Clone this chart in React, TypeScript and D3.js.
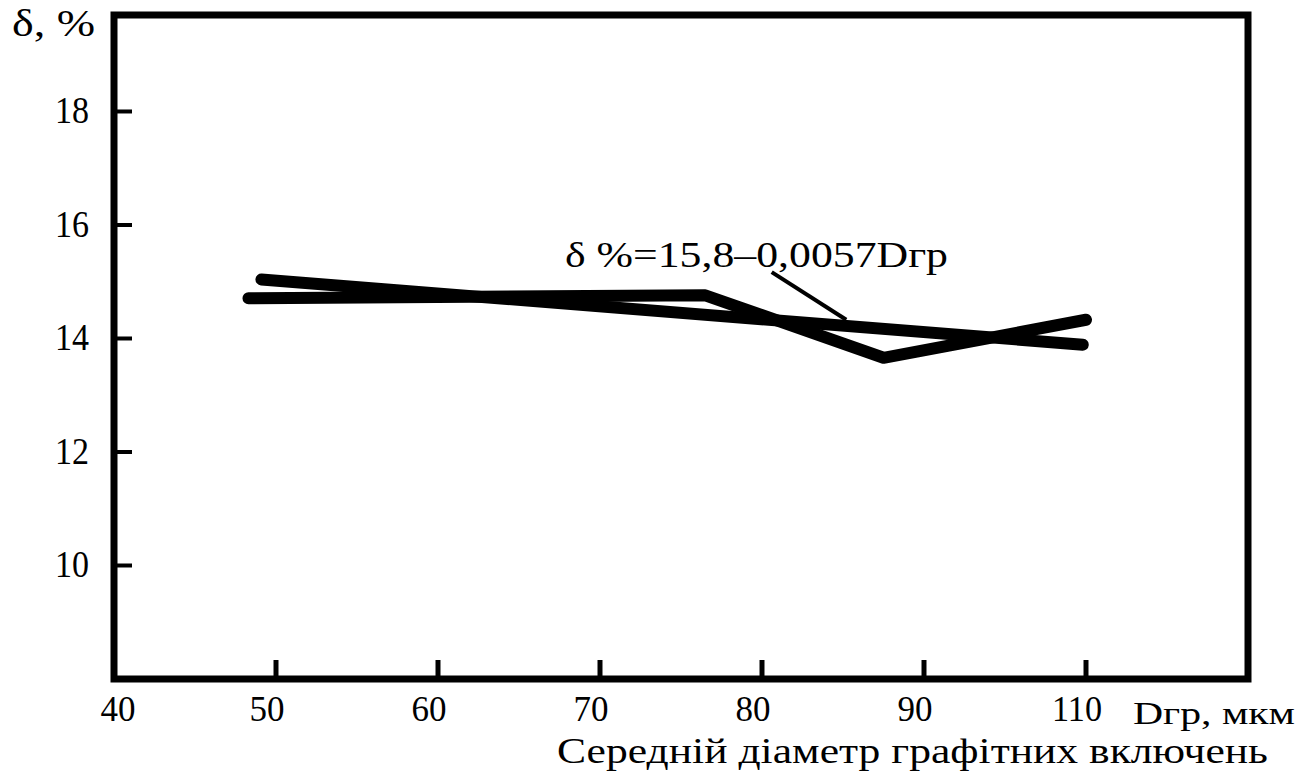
import { useRef, useEffect } from "react";
import * as d3 from "d3";

// diameter of graphite inclusions, µm
const expD = [48.3, 76.5, 87.5, 100];
// elongation δ, %
const expDelta = [14.71, 14.76, 13.66, 14.33];

// fitted line endpoints as drawn
const fitD = [49.1, 99.8];
const fitDelta = [15.04, 13.89];

const xTickValues = [40, 50, 60, 70, 80, 90, 100];
// the original labels the 100 tick as "110"
const xTickLabels = ["40", "50", "60", "70", "80", "90", "110"];
const yTickValues = [10, 12, 14, 16, 18];

const equation = "δ %=15,8–0,0057Dгр";
const xTitle = "Середній діаметр графітних включень";
const xUnit = "Dгр, мкм";
const yTitle = "δ, %";

export default function App() {
  const svgRef = useRef<SVGSVGElement | null>(null);

  useEffect(() => {
    document.body.style.margin = "0";
    if (!svgRef.current) return;
    const svg = d3.select(svgRef.current);
    svg.selectAll("*").remove();

    const width = 1302;
    const height = 776;
    const plot = { left: 114, right: 1248, top: 15, bottom: 679 };
    const font = "'Liberation Serif', 'Times New Roman', serif";

    svg.append("rect").attr("width", width).attr("height", height).attr("fill", "#fff");

    const x = d3.scaleLinear().domain([40, 110]).range([plot.left, plot.right]);
    const y = d3.scaleLinear().domain([8, 19.7]).range([plot.bottom, plot.top]);

    // frame
    svg
      .append("rect")
      .attr("x", plot.left)
      .attr("y", plot.top)
      .attr("width", plot.right - plot.left)
      .attr("height", plot.bottom - plot.top)
      .attr("fill", "none")
      .attr("stroke", "#000")
      .attr("stroke-width", 7);

    // y ticks (inward)
    const yAxis = svg.append("g");
    yAxis
      .selectAll("line")
      .data(yTickValues)
      .join("line")
      .attr("x1", plot.left)
      .attr("x2", plot.left + 18)
      .attr("y1", (d) => y(d))
      .attr("y2", (d) => y(d))
      .attr("stroke", "#000")
      .attr("stroke-width", 4);
    yAxis
      .selectAll("text")
      .data(yTickValues)
      .join("text")
      .attr("x", 89)
      .attr("y", (d) => y(d) + 12)
      .attr("text-anchor", "end")
      .attr("font-family", font)
      .attr("font-size", 37)
      .attr("textLength", 34)
      .attr("lengthAdjust", "spacingAndGlyphs")
      .text((d) => d);

    // x ticks (inward)
    const xAxis = svg.append("g");
    xAxis
      .selectAll("line")
      .data(xTickValues.slice(1))
      .join("line")
      .attr("x1", (d) => x(d))
      .attr("x2", (d) => x(d))
      .attr("y1", plot.bottom)
      .attr("y2", plot.bottom - 19)
      .attr("stroke", "#000")
      .attr("stroke-width", 5);
    xAxis
      .selectAll("text")
      .data(xTickValues)
      .join("text")
      .attr("x", (d, i) => x(d) + (i === 0 ? 4 : -9))
      .attr("y", 721)
      .attr("text-anchor", "middle")
      .attr("font-family", font)
      .attr("font-size", 35)
      .attr("textLength", (d, i) => (xTickLabels[i].length === 3 ? 50 : 35))
      .attr("lengthAdjust", "spacingAndGlyphs")
      .text((d, i) => xTickLabels[i]);

    const line = d3
      .line<[number, number]>()
      .x((d) => x(d[0]))
      .y((d) => y(d[1]));

    // fitted line
    svg
      .append("path")
      .datum(fitD.map((d, i) => [d, fitDelta[i]] as [number, number]))
      .attr("fill", "none")
      .attr("stroke", "#000")
      .attr("stroke-width", 12)
      .attr("stroke-linecap", "round")
      .attr("d", line);

    // experimental broken line
    svg
      .append("path")
      .datum(expD.map((d, i) => [d, expDelta[i]] as [number, number]))
      .attr("fill", "none")
      .attr("stroke", "#000")
      .attr("stroke-width", 12)
      .attr("stroke-linecap", "round")
      .attr("stroke-linejoin", "round")
      .attr("d", line);

    // leader from the equation to the fitted line
    svg
      .append("line")
      .attr("x1", x(80.6))
      .attr("y1", y(15.17))
      .attr("x2", x(85.2))
      .attr("y2", y(14.33))
      .attr("stroke", "#000")
      .attr("stroke-width", 4);

    svg
      .append("text")
      .attr("x", 565)
      .attr("y", 267)
      .attr("font-family", font)
      .attr("font-size", 36)
      .attr("textLength", 383)
      .attr("lengthAdjust", "spacingAndGlyphs")
      .text(equation);

    svg
      .append("text")
      .attr("x", 12)
      .attr("y", 36)
      .attr("font-family", font)
      .attr("font-size", 38)
      .attr("textLength", 83)
      .attr("lengthAdjust", "spacingAndGlyphs")
      .text(yTitle);

    svg
      .append("text")
      .attr("x", 1133)
      .attr("y", 724)
      .attr("font-family", font)
      .attr("font-size", 32)
      .attr("textLength", 162)
      .attr("lengthAdjust", "spacingAndGlyphs")
      .text(xUnit);

    svg
      .append("text")
      .attr("x", 557)
      .attr("y", 763)
      .attr("font-family", font)
      .attr("font-size", 36)
      .attr("textLength", 711)
      .attr("lengthAdjust", "spacingAndGlyphs")
      .text(xTitle);
  }, []);

  return <svg ref={svgRef} width={1302} height={776} viewBox="0 0 1302 776" style={{ display: "block" }}></svg>;
}
